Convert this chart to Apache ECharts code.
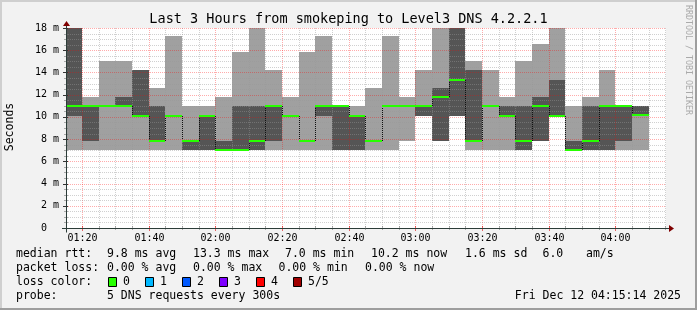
<!DOCTYPE html>
<html><head><meta charset="utf-8">
<script src="https://cdn.jsdelivr.net/npm/echarts@6/dist/echarts.min.js"></script>
<style>html,body{margin:0;padding:0;background:#f2f2f2}#c{width:697px;height:310px}</style>
</head><body><div id="c"></div>
<script>
// ---- data ----
const axisStart = '01:15:14';
const axisEnd = '04:15:14';
const slotMinutes = 5;
const slotEnds = ['01:20','01:25','01:30','01:35','01:40','01:45','01:50','01:55','02:00','02:05','02:10','02:15','02:20','02:25','02:30','02:35','02:40','02:45','02:50','02:55','03:00','03:05','03:10','03:15','03:20','03:25','03:30','03:35','03:40','03:45','03:50','03:55','04:00','04:05','04:10'];
const minRtt    = [7.0,7.0,7.0,7.0,7.0,7.0,7.0,7.0,7.0,7.0,7.0,7.0,7.0,7.0,7.0,7.0,7.0,7.0,7.0,7.0,7.8,10.1,7.8,10.1,7.0,7.0,7.0,7.0,7.8,10.1,7.0,7.0,7.0,7.0,7.0];
const lowRtt    = [10.1,7.8,11.0,11.0,10.1,7.8,10.1,7.0,7.0,7.0,7.0,7.0,7.8,10.1,7.8,10.1,7.0,7.0,7.8,11.0,11.0,10.1,7.8,10.1,7.8,11.0,10.1,7.0,7.8,10.1,7.0,7.0,7.0,7.8,10.2];
const medianRtt = [11.0,11.0,11.0,11.0,10.1,7.8,10.1,7.8,10.1,7.0,7.0,7.8,11.0,10.1,7.8,11.0,11.0,10.1,7.8,11.0,11.0,11.0,11.8,13.35,7.8,11.0,10.1,7.8,11.0,10.1,7.0,7.8,11.0,11.0,10.2];
const highRtt   = [18.1,11.0,11.0,11.8,14.2,11.0,10.1,7.8,10.1,7.8,11.0,11.0,11.0,10.1,7.8,11.0,11.0,10.1,7.8,11.0,11.0,11.0,12.6,18.1,14.2,11.0,11.0,11.0,11.8,13.35,7.8,11.0,11.0,11.0,11.0];
const maxRtt    = [18.1,11.8,15.0,15.0,14.2,12.6,17.3,11.0,11.0,11.8,15.8,18.1,14.2,11.8,15.8,17.3,11.0,11.0,12.6,17.3,11.8,14.2,18.1,18.1,15.0,14.2,11.8,15.0,16.6,18.1,11.0,11.8,14.2,11.0,11.0];
const xTickLabels = ['01:20','01:40','02:00','02:20','02:40','03:00','03:20','03:40','04:00'];
const yMax = 18, yMajorStep = 2, yMinorStep = 0.5;
const titleText = 'Last 3 Hours from smokeping to Level3 DNS 4.2.2.1';
const legendRows = [
  [['median rtt:',16],['9.8 ms avg',107],['13.3 ms max',193],['7.0 ms min',285],['10.2 ms now',371],['1.6 ms sd',465],['6.0',542.5],['am/s',586]],
  [['packet loss:',16],['0.00 % avg',107],['0.00 % max',193],['0.00 % min',278.5],['0.00 % now',365]],
  [['loss color:',16]],
  [['probe:',16],['5 DNS requests every 300s',107]]
];
const lossLabels = ['0','1','2','3','4','5/5'];
const lossColors = ['#26ff00','#00b8ff','#0059ff','#7e00ff','#ff0000','#a00000'];
const dateText = 'Fri Dec 12 04:15:14 2025';

// ---- styles ----
const LIGHT = '#a0a0a0', DARK = '#555555', GREEN = '#26ff00';
const MINOR = 'rgba(150,150,150,0.45)', MAJOR = 'rgba(255,0,0,0.33)';
const MONO = '"DejaVu Sans Mono", monospace';
const ARROW = '#7f0000', AXIS = '#2c3c38';

function toMin(s){ const p = s.split(':').map(Number); return p[0]*60 + p[1] + (p[2]||0)/60; }
const X_MIN = toMin(axisStart), X_MAX = toMin(axisEnd);

const smokeData = slotEnds.map((t,i)=>[toMin(t), minRtt[i], lowRtt[i], medianRtt[i], highRtt[i], maxRtt[i]]);
const medianData = slotEnds.map((t,i)=>[toMin(t), medianRtt[i], i>0 ? medianRtt[i-1] : medianRtt[i]]);

// grid items: [value, orient(0 vertical,1 horizontal), major]
const gridItems = [];
const gridLabels = [];
const majorMins = xTickLabels.map(toMin);
for (let m = Math.ceil(X_MIN/slotMinutes)*slotMinutes; m < X_MAX; m += slotMinutes) {
  const k = majorMins.indexOf(m);
  gridItems.push([m, 0, k >= 0 ? 1 : 0]);
  gridLabels.push(k >= 0 ? xTickLabels[k] : '');
}
for (let v = yMinorStep; v <= yMax + 1e-9; v += yMinorStep) {
  const mj = Math.abs(v/yMajorStep - Math.round(v/yMajorStep)) < 1e-9 ? 1 : 0;
  gridItems.push([v, 1, mj]);
  gridLabels.push('');
}

function colSpan(params, api, end){
  const cs = params.coordSys;
  let xa = Math.round(api.coord([end - slotMinutes, 0])[0]);
  let xb = Math.round(api.coord([end, 0])[0]);
  xa = Math.max(xa, cs.x); xb = Math.min(xb, cs.x + cs.width);
  return [xa, xb];
}
function yPix(api, v){ return api.coord([X_MIN, Math.min(v, yMax)])[1]; }

function renderSmoke(params, api){
  const [xa, xb] = colSpan(params, api, api.value(0));
  const p1 = api.value(1), p2 = api.value(2), p4 = api.value(4), p5 = api.value(5);
  const ch = [];
  const yt = Math.round(yPix(api,p5)), yb = Math.round(yPix(api,p1));
  ch.push({type:'rect', shape:{x:xa, y:yt, width:xb-xa, height:yb-yt}, style:{fill:LIGHT}});
  if (p4 > p2) {
    const y1 = Math.round(yPix(api,p4)), y2 = Math.round(yPix(api,p2));
    ch.push({type:'rect', shape:{x:xa, y:y1, width:xb-xa, height:y2-y1}, style:{fill:DARK}});
  }
  return {type:'group', children:ch};
}
function renderMedian(params, api){
  const [xa, xb] = colSpan(params, api, api.value(0));
  const ym = Math.round(yPix(api, api.value(1))), yp = Math.round(yPix(api, api.value(2)));
  const ch = [];
  if (ym !== yp) ch.push({type:'line', shape:{x1:xa+0.5, y1:yp, x2:xa+0.5, y2:ym}, style:{stroke:'#111', lineWidth:1, lineDash:[1,1]}});
  ch.push({type:'rect', shape:{x:xa, y:ym-1, width:xb-xa, height:2}, style:{fill:GREEN}});
  return {type:'group', children:ch};
}
function renderGrid(params, api){
  const cs = params.coordSys;
  const v = api.value(0), o = api.value(1), mj = api.value(2);
  const col = mj ? MAJOR : MINOR;
  const ch = [];
  const y0 = cs.y + cs.height;
  if (o === 0) {
    const x = Math.round(api.coord([v,0])[0]) + 0.5;
    ch.push({type:'line', shape:{x1:x, y1:cs.y, x2:x, y2:y0}, style:{stroke:col, lineWidth:1, lineDash:[1,1]}});
    ch.push({type:'line', shape:{x1:x, y1:y0-2, x2:x, y2:y0+(mj?3:2)}, style:{stroke:mj?'rgba(220,0,0,0.6)':'rgba(120,120,120,0.6)', lineWidth:1}});
    const lab = gridLabels[params.dataIndex];
    if (lab) ch.push({type:'text', style:{text:lab, x:x, y:y0+10, align:'center', verticalAlign:'middle', fontFamily:MONO, fontSize:10, fill:'#000'}});
  } else {
    const y = Math.round(api.coord([X_MIN, v])[1]) + 0.5;
    ch.push({type:'line', shape:{x1:cs.x, y1:y, x2:cs.x+cs.width, y2:y}, style:{stroke:col, lineWidth:1, lineDash:[1,1]}});
    ch.push({type:'line', shape:{x1:cs.x-(mj?3:2), y1:y, x2:cs.x+2, y2:y}, style:{stroke:mj?'#333':'rgba(120,120,120,0.6)', lineWidth:1}});
  }
  return {type:'group', children:ch};
}
function renderAxes(params, api){
  const cs = params.coordSys;
  const x0 = cs.x + 0.5, y0 = cs.y + cs.height + 0.5, xe = cs.x + cs.width, yt = cs.y;
  return {type:'group', children:[
    {type:'line', shape:{x1:cs.x-4, y1:y0, x2:xe+3, y2:y0}, style:{stroke:AXIS, lineWidth:1}},
    {type:'line', shape:{x1:x0, y1:y0+4, x2:x0, y2:yt-4}, style:{stroke:AXIS, lineWidth:1}},
    {type:'polygon', shape:{points:[[xe+3,y0-3.5],[xe+8,y0],[xe+3,y0+3.5]]}, style:{fill:ARROW}},
    {type:'polygon', shape:{points:[[x0-3.5,yt-2],[x0,yt-7],[x0+3.5,yt-2]]}, style:{fill:ARROW}}
  ]};
}

const chart = echarts.init(document.getElementById('c'), null, {renderer:'canvas', width:697, height:310});

const graphics = [
  {type:'rect', shape:{x:0,y:0,width:697,height:2}, style:{fill:'#cfcfcf'}, silent:true},
  {type:'rect', shape:{x:0,y:0,width:2,height:310}, style:{fill:'#cfcfcf'}, silent:true},
  {type:'rect', shape:{x:0,y:308,width:697,height:2}, style:{fill:'#9e9e9e'}, silent:true},
  {type:'rect', shape:{x:695,y:0,width:2,height:310}, style:{fill:'#9e9e9e'}, silent:true},
  {type:'text', x:348.5, y:19, style:{text:titleText, align:'center', verticalAlign:'middle', fontFamily:MONO, fontSize:13.5, fill:'#000'}},
  {type:'text', x:10.5, y:127, rotation:Math.PI/2, style:{text:'Seconds', align:'center', verticalAlign:'middle', fontFamily:MONO, fontSize:11.5, fill:'#000'}},
  {type:'text', x:688, y:60, rotation:-Math.PI/2, style:{text:'RRDTOOL / TOBI OETIKER', align:'center', verticalAlign:'middle', fontFamily:MONO, fontSize:8.3, fill:'#aaaaaa'}}
];
const rowY = [254.5, 268.5, 282.5, 296];
legendRows.forEach((row, r) => row.forEach(([t, x]) => graphics.push({type:'text', x:x, y:rowY[r], style:{text:t, align:'left', verticalAlign:'middle', fontFamily:MONO, fontSize:11.5, fill:'#000'}})));
const boxX = [108.5, 145.5, 182.5, 219.5, 256.5, 293.5];
lossLabels.forEach((l, i) => {
  graphics.push({type:'rect', shape:{x:boxX[i], y:277.5, width:8, height:9}, style:{fill:lossColors[i], stroke:'#000', lineWidth:1}});
  graphics.push({type:'text', x:boxX[i]+14.5, y:rowY[2], style:{text:l, align:'left', verticalAlign:'middle', fontFamily:MONO, fontSize:11.5, fill:'#000'}});
});
graphics.push({type:'text', x:681, y:rowY[3], style:{text:dateText, align:'right', verticalAlign:'middle', fontFamily:MONO, fontSize:11.5, fill:'#000'}});

chart.setOption({
  animation:false,
  backgroundColor:'#f2f2f2',
  grid:{left:66, top:28, width:600, height:200, show:true, backgroundColor:'#ffffff', borderWidth:0, containLabel:false, outerBoundsMode:'none'},
  xAxis:{type:'value', min:X_MIN, max:X_MAX, show:false},
  yAxis:{type:'value', min:0, max:yMax, interval:yMajorStep,
    axisLine:{show:false}, axisTick:{show:false}, splitLine:{show:false},
    axisLabel:{fontFamily:MONO, fontSize:10, color:'#000', margin:7, formatter:v => v === 0 ? '0  ' : v + ' m'}},
  graphic:graphics,
  series:[
    {type:'custom', name:'smoke', silent:true, z:2, renderItem:renderSmoke, data:smokeData, clip:false},
    {type:'custom', name:'grid', silent:true, z:3, renderItem:renderGrid, data:gridItems, clip:false},
    {type:'custom', name:'median', silent:true, z:4, renderItem:renderMedian, data:medianData, clip:false},
    {type:'custom', name:'axes', silent:true, z:5, renderItem:renderAxes, data:[[X_MIN,0]], clip:false}
  ]
});
</script>
</body></html>
